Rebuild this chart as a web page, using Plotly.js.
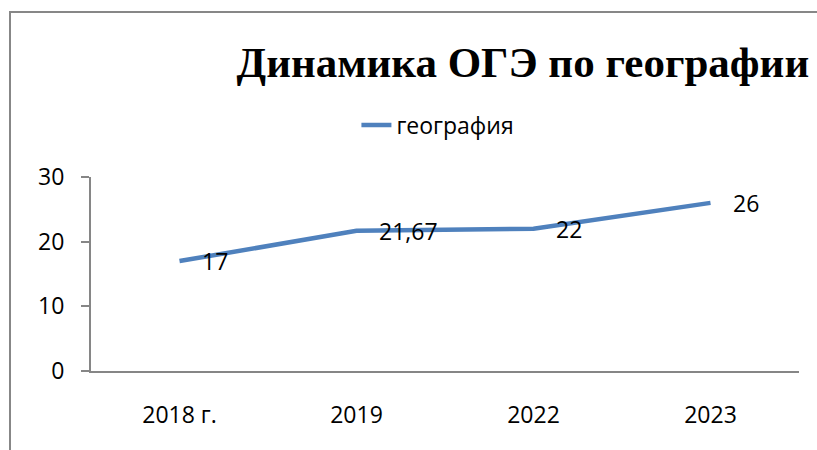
<!DOCTYPE html>
<html>
<head>
<meta charset="utf-8">
<script src="https://cdn.plot.ly/plotly-3.0.1.min.js"></script>
<style>
  body { margin: 0; background: #fff; }
  #frame { position: absolute; left: 9px; top: 11px; width: 900px; height: 500px;
           border-left: 2px solid #878787; border-top: 2px solid #878787; }
  #chart { position: absolute; left: 0; top: 0; width: 817px; height: 450px; }
</style>
</head>
<body>
<div id="frame"></div>
<div id="chart"></div>
<script>
var years = ['2018 г.', '2019', '2022', '2023'];
var scores = [17, 21.67, 22, 26];
var seriesName = 'география';

function drawChart() {
  var labelFont = { family: 'Open Sans', size: 23, color: 'black' };

  var line1 = {
    x: years, y: scores, name: seriesName, type: 'scatter', mode: 'lines',
    line: { color: '#4F81BD', width: 4.5 }
  };

  // data labels right of each point, like the excel ones
  // (x as category index: '2019' as a string would be read as a number)
  var notes = scores.map(function (v, i) {
    return {
      x: i, y: v, xref: 'x', yref: 'y',
      text: String(v).replace('.', ','), showarrow: false,
      xanchor: 'left', yanchor: 'middle', xshift: 20, yshift: 0,
      font: labelFont
    };
  });

  var layout = {
    width: 817, height: 450,
    margin: { l: 91, r: 18, t: 177, b: 79 },
    paper_bgcolor: 'rgba(0,0,0,0)',
    plot_bgcolor: 'rgba(0,0,0,0)',
    showlegend: true,
    annotations: notes,
    title: {
      text: '<b>Динамика ОГЭ по географии</b>',
      font: { family: 'Liberation Serif', size: 43, color: 'black' },
      xref: 'paper', x: 0.61, xanchor: 'center',
      yref: 'container', y: 0.862, yanchor: 'middle'
    },
    legend: {
      orientation: 'h', xanchor: 'center', yanchor: 'middle',
      x: 0.49, y: 1.268,
      font: { family: 'Open Sans', size: 23, color: 'black' }
    },
    xaxis: {
      type: 'category', range: [-0.5, 3.5],
      showgrid: false, zeroline: false,
      showline: true, linecolor: '#868686', linewidth: 2,
      ticks: '', ticklabelstandoff: 22,
      tickfont: labelFont
    },
    yaxis: {
      range: [0, 30], dtick: 10,
      showgrid: false, zeroline: false,
      showline: true, linecolor: '#868686', linewidth: 2,
      ticks: 'outside', ticklen: 8, tickcolor: '#868686', tickwidth: 2,
      ticklabelstandoff: 12,
      tickfont: labelFont
    }
  };

  Plotly.newPlot('chart', [line1], layout, { displayModeBar: false, staticPlot: true });
}

drawChart();
</script>
</body>
</html>
